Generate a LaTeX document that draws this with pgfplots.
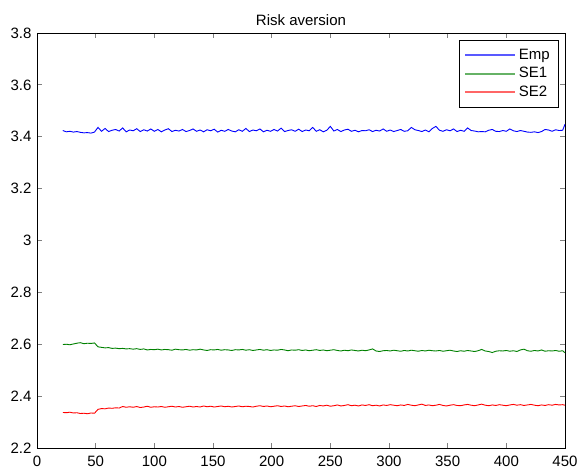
\documentclass[border=0pt]{standalone}
\usepackage{pgfplots}
\usepackage{pgfplotstable}
\pgfplotsset{compat=1.18}
\usepackage{fontspec}
\setmainfont{Liberation Sans}
\definecolor{mblue}{rgb}{0,0,1}
\definecolor{mgreen}{rgb}{0,0.5,0}
\definecolor{mred}{rgb}{1,0,0}
\pgfplotstableread{
x emp se1 se2
22 3.424 2.599 2.337
25 3.419 2.600 2.336
28 3.421 2.598 2.338
31 3.418 2.601 2.335
34 3.420 2.604 2.336
37 3.417 2.606 2.333
40 3.415 2.602 2.334
43 3.416 2.604 2.332
46 3.414 2.603 2.335
49 3.418 2.605 2.334
52 3.436 2.590 2.349
55 3.421 2.588 2.352
58 3.432 2.586 2.351
61 3.420 2.587 2.354
64 3.425 2.584 2.353
67 3.428 2.585 2.355
70 3.422 2.583 2.354
73 3.434 2.584 2.360
76 3.419 2.582 2.357
79 3.426 2.583 2.359
82 3.423 2.581 2.357
85 3.431 2.583 2.360
88 3.420 2.580 2.356
91 3.427 2.582 2.358
94 3.422 2.578 2.361
97 3.430 2.580 2.357
100 3.421 2.579 2.359
103 3.428 2.581 2.358
106 3.419 2.578 2.360
109 3.426 2.580 2.357
112 3.431 2.579 2.359
115 3.420 2.577 2.361
118 3.425 2.581 2.358
121 3.422 2.579 2.360
124 3.428 2.578 2.357
127 3.420 2.580 2.359
130 3.424 2.577 2.361
133 3.430 2.579 2.358
136 3.421 2.578 2.360
139 3.426 2.581 2.358
142 3.419 2.578 2.362
145 3.427 2.576 2.359
148 3.423 2.579 2.361
151 3.429 2.578 2.358
154 3.418 2.580 2.360
157 3.425 2.577 2.362
160 3.421 2.579 2.359
163 3.428 2.578 2.361
166 3.422 2.576 2.358
169 3.419 2.579 2.360
172 3.427 2.578 2.362
175 3.421 2.580 2.359
178 3.432 2.577 2.361
181 3.420 2.579 2.360
184 3.426 2.576 2.358
187 3.423 2.578 2.361
190 3.430 2.580 2.363
193 3.419 2.577 2.360
196 3.425 2.579 2.362
199 3.421 2.576 2.359
202 3.428 2.578 2.361
205 3.422 2.577 2.363
208 3.433 2.580 2.360
211 3.420 2.578 2.362
214 3.424 2.575 2.359
217 3.427 2.578 2.361
220 3.421 2.577 2.363
223 3.429 2.579 2.360
226 3.420 2.576 2.362
229 3.426 2.578 2.364
232 3.423 2.575 2.361
235 3.436 2.577 2.363
238 3.421 2.579 2.360
241 3.427 2.576 2.364
244 3.419 2.578 2.362
247 3.425 2.575 2.365
250 3.440 2.577 2.361
253 3.422 2.579 2.363
256 3.428 2.576 2.366
259 3.420 2.574 2.362
262 3.426 2.577 2.364
265 3.429 2.575 2.367
268 3.421 2.578 2.363
271 3.425 2.576 2.365
274 3.419 2.574 2.362
277 3.424 2.577 2.366
280 3.423 2.575 2.364
283 3.427 2.578 2.367
286 3.420 2.582 2.363
289 3.425 2.574 2.365
292 3.422 2.572 2.362
295 3.430 2.575 2.366
298 3.421 2.576 2.364
301 3.426 2.574 2.367
304 3.420 2.577 2.365
307 3.424 2.575 2.363
310 3.428 2.573 2.366
313 3.421 2.576 2.364
316 3.423 2.574 2.368
319 3.436 2.577 2.365
322 3.427 2.575 2.363
325 3.424 2.573 2.366
328 3.420 2.576 2.369
331 3.426 2.574 2.364
334 3.419 2.577 2.366
337 3.432 2.575 2.363
340 3.440 2.574 2.365
343 3.425 2.576 2.368
346 3.421 2.573 2.364
349 3.427 2.575 2.362
352 3.423 2.577 2.365
355 3.430 2.574 2.367
358 3.420 2.572 2.364
361 3.425 2.575 2.363
364 3.421 2.573 2.366
367 3.434 2.576 2.368
370 3.424 2.574 2.365
373 3.422 2.572 2.363
376 3.419 2.575 2.366
379 3.420 2.580 2.369
382 3.419 2.574 2.365
385 3.425 2.572 2.363
388 3.428 2.568 2.366
391 3.421 2.573 2.364
394 3.420 2.575 2.367
397 3.424 2.574 2.365
400 3.421 2.576 2.363
403 3.430 2.573 2.366
406 3.423 2.575 2.368
409 3.420 2.572 2.365
412 3.424 2.578 2.367
415 3.421 2.581 2.364
418 3.418 2.575 2.366
421 3.417 2.573 2.368
424 3.419 2.576 2.365
427 3.416 2.574 2.363
430 3.420 2.578 2.366
433 3.428 2.573 2.364
436 3.426 2.575 2.367
439 3.421 2.574 2.365
442 3.427 2.576 2.368
445 3.424 2.573 2.366
448 3.425 2.575 2.367
450 3.448 2.567 2.365
}\datatable
\begin{document}
\begin{tikzpicture}
\useasboundingbox (-37pt,-25pt) rectangle (542pt,448pt);
\begin{axis}[
  at={(0pt,0pt)}, anchor=south west,
  scale only axis, width=528pt, height=415pt,
  xmin=0, xmax=450, ymin=2.2, ymax=3.8,
  xtick={0,50,...,450},
  ytick={2.2,2.4,2.6,2.8,3.0,3.2,3.4,3.6,3.8},
  yticklabels={2.2,2.4,2.6,2.8,3,3.2,3.4,3.6,3.8},
  tick align=inside, tick pos=both,
  major tick length=5pt,
  axis line style={line width=0.8pt},
  major tick style={line width=0.8pt},
  /pgf/number format/assume math mode=true,
  ticklabel style={font=\fontsize{15}{17}\selectfont},
  xticklabel style={yshift=-4pt},
  yticklabel style={xshift=-2pt},
  title={Risk aversion},
  title style={font=\fontsize{15}{17}\selectfont, yshift=-2pt},
  legend style={at={(0.9867,0.983)}, anchor=north east, draw=black, fill=white,
    font=\fontsize{15}{17}\selectfont, row sep=0.5pt, inner xsep=5pt, inner ysep=6pt,
    nodes={text height=11pt, text depth=3pt, inner ysep=2pt, inner xsep=3pt}},
  legend cell align=left,
]
\addplot[color=mblue, line width=0.9pt,
  legend image code/.code={\draw[draw=mblue!65, line width=1.8pt] (0pt,0pt) -- (50pt,0pt);}]
  table[x=x, y=emp] {\datatable};
\addlegendentry{Emp}
\addplot[color=mgreen, line width=0.9pt,
  legend image code/.code={\draw[draw=mgreen!60, line width=1.8pt] (0pt,0pt) -- (50pt,0pt);}]
  table[x=x, y=se1] {\datatable};
\addlegendentry{SE1}
\addplot[color=mred, line width=0.9pt,
  legend image code/.code={\draw[draw=mred!60, line width=1.8pt] (0pt,0pt) -- (50pt,0pt);}]
  table[x=x, y=se2] {\datatable};
\addlegendentry{SE2}
\end{axis}
\end{tikzpicture}
\end{document}
